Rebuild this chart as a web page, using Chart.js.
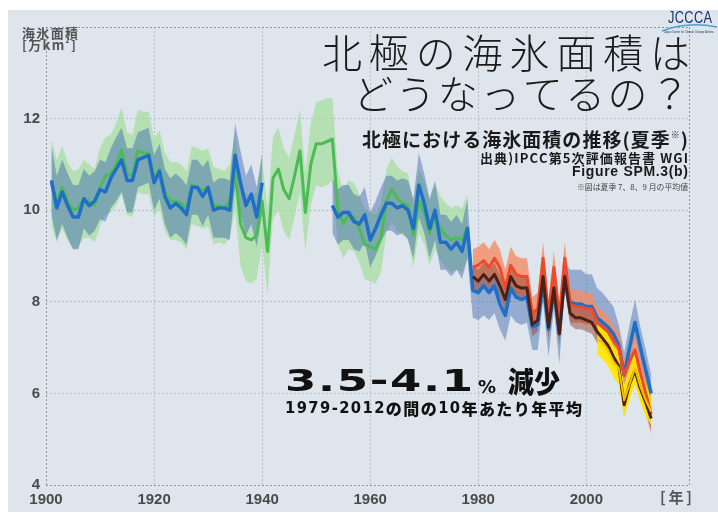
<!DOCTYPE html>
<html>
<head>
<meta charset="utf-8">
<script src="https://cdn.jsdelivr.net/npm/chart.js@4/dist/chart.umd.min.js"></script>
<style>
  html, body { margin: 0; padding: 0; background: #fff; }
</style>
</head>
<body>
<canvas id="myChart" width="718" height="514"></canvas>
<script>
// axis ticks
var xTicks = [1900, 1920, 1940, 1960, 1980, 2000, 2019];
var yTicks = [4, 6, 8, 10, 12, 14];

// green record 1901-1978
var greenStart = 1901;
var greenVals = [
  10.6, 10.2, 10.5, 10.2, 10.0, 10.05, 10.25, 10.2, 10.1, 10.5,
  10.75, 10.8, 11.0, 11.3, 10.8, 10.75, 11.3, 11.25, 11.25, 10.7,
  10.9, 10.4, 10.2, 10.2, 10.15, 10.0, 10.55, 10.5, 10.45, 10.5,
  10.1, 10.1, 10.05, 10.2, 10.85, 9.7, 9.4, 9.35, 9.45, 10.2,
  9.1, 10.7, 10.9, 10.45, 10.25, 10.75, 11.3, 9.95, 11.0, 11.45,
  11.45, 11.5, 11.55, 10.05, 9.7, 9.9, 9.85, 9.6, 9.25, 9.2,
  9.15, 9.4, 10.2, 10.45, 10.25, 10.15, 10.1, 9.45, 10.2, 9.95,
  9.5, 9.85, 9.6, 9.45, 9.35, 9.4, 9.35, 9.65
];
var greenErr = [
  0.95, 0.9, 0.9, 0.85, 0.85, 0.85, 0.85, 0.8, 0.8, 0.85, 0.85, 0.85,
  0.9, 0.95, 0.9, 0.9, 0.9, 0.9, 0.9, 0.85, 0.85, 0.85, 0.85, 0.85,
  0.85, 0.85, 0.85, 0.85, 0.85, 0.85, 0.85, 0.8, 0.8, 0.8, 0.85, 0.9,
  0.95, 0.95, 0.95, 0.95, 0.95, 0.9, 0.9, 0.9, 0.9, 0.9, 0.9, 0.85,
  0.9, 0.9, 0.95, 0.95, 0.9, 0.8, 0.75, 0.75, 0.75, 0.75, 0.75, 0.75,
  0.75, 0.75, 0.7, 0.7, 0.7, 0.7, 0.7, 0.7, 0.7, 0.7, 0.7, 0.7,
  0.7, 0.7, 0.7, 0.7, 0.7, 0.7
];

// blue record: 1901-1940, gap 1941-1952, 1953-1978, 1979-2012
var blueStart = 1901;
var blueEarly = [
  10.65, 10.05, 10.4, 10.1, 9.85, 9.85, 10.25, 10.1, 10.2, 10.45,
  10.4, 10.7, 10.9, 11.1, 10.65, 10.65, 11.1, 11.15, 11.2, 10.6,
  10.85, 10.3, 10.05, 10.15, 10.05, 9.9, 10.5, 10.5, 10.3, 10.5,
  10.0, 10.05, 10.05, 10.0, 11.2, 10.6, 10.1, 10.35, 9.85, 10.6
];
var blueEarlyErr = [
  0.75, 0.7, 0.7, 0.7, 0.7, 0.7, 0.65, 0.65, 0.65, 0.65,
  0.65, 0.65, 0.7, 0.7, 0.7, 0.7, 0.6, 0.6, 0.6, 0.6,
  0.6, 0.6, 0.65, 0.65, 0.65, 0.65, 0.6, 0.6, 0.65, 0.6,
  0.6, 0.65, 0.65, 0.65, 0.7, 0.7, 0.65, 0.65, 0.65, 0.65
];
var blueMid = [
  10.1, 9.85, 9.95, 9.95, 9.75, 9.7, 9.9, 9.35, 9.6, 9.9,
  10.15, 10.15, 10.05, 10.1, 10.0, 9.6, 10.55, 10.15, 9.6, 10.0,
  9.3, 9.3, 9.15, 9.3, 9.1, 9.6
];
var blueMidErr = [
  0.6, 0.6, 0.6, 0.6, 0.6, 0.6, 0.6, 0.6, 0.6, 0.6,
  0.6, 0.6, 0.6, 0.6, 0.65, 0.65, 0.7, 0.65, 0.65, 0.65,
  0.6, 0.6, 0.6, 0.6, 0.6, 0.65
];
var blueSat = [
  8.25, 8.2, 8.35, 8.2, 8.35, 7.95, 7.7, 8.3, 8.1, 8.05,
  8.1, 7.45, 7.5, 8.45, 7.4, 8.3, 7.3, 8.6, 8.0, 7.95,
  7.95, 7.9, 7.9, 7.65, 7.55, 7.45, 7.3, 7.05, 6.4, 7.0,
  7.55, 7.0, 6.5, 6.0
];
var blueSatUp = [
  0.3, 0.3, 0.3, 0.3, 0.3, 0.3, 0.3, 0.3, 0.3, 0.3, 0.3,
  0.3, 0.3, 0.3, 0.3, 0.3, 0.3, 0.3,
  0.7, 0.75, 0.75, 0.7, 0.7, 0.65, 0.65, 0.6, 0.6,
  0.45, 0.5, 0.5, 0.5, 0.45, 0.45, 0.4
];
var blueSatDn = [
  0.6, 0.6, 0.65, 0.6, 0.6, 0.55, 0.55, 0.6, 0.55, 0.55, 0.55,
  0.5, 0.55, 0.45, 0.6, 0.45, 0.65, 0.35,
  0.45, 0.4, 0.4, 0.35, 0.35, 0.35, 0.35, 0.35, 0.35,
  0.4, 0.45, 0.4, 0.4, 0.4, 0.4, 0.4
];
var blueGap = [null, null, null, null, null, null, null, null, null, null, null, null];

// satellite era 1979-2012
var satStart = 1979;
var redVals = [
  8.75, 8.8, 8.9, 8.75, 8.95, 8.75, 8.3, 8.8, 8.6, 8.55,
  8.55, 7.75, 7.85, 8.95, 7.7, 8.75, 7.65, 8.95, 7.95, 7.9,
  7.9, 7.85, 7.85, 7.55, 7.45, 7.35, 7.15, 7.0, 6.4, 6.7,
  6.95, 6.45, 6.0, 5.55
];
var redErr = [
  0.4, 0.4, 0.4, 0.4, 0.4, 0.4, 0.4, 0.4, 0.4, 0.4,
  0.4, 0.35, 0.35, 0.35, 0.35, 0.35, 0.35, 0.35, 0.35, 0.35,
  0.35, 0.35, 0.35, 0.35, 0.35, 0.35, 0.35, 0.35, 0.35, 0.35,
  0.35, 0.35, 0.4, 0.45
];
var brownVals = [
  8.55, 8.45, 8.6, 8.45, 8.6, 8.35, 8.05, 8.55, 8.35, 8.3,
  8.3, 7.5, 7.6, 8.55, 7.45, 8.3, 7.3, 8.55, 7.75, 7.65,
  7.65, 7.6, 7.55, 7.35, 7.2, 7.05, 6.8, 6.6, 5.75, 6.2,
  6.5, 6.1, 5.8, 5.45
];
var brownErr = [
  0.25, 0.25, 0.25, 0.25, 0.25, 0.25, 0.25, 0.25, 0.25, 0.25,
  0.25, 0.25, 0.25, 0.25, 0.25, 0.25, 0.25, 0.25, 0.25, 0.25,
  0.25, 0.25, 0.25, 0.25, 0.25, 0.25, 0.25, 0.25, 0.25, 0.25,
  0.25, 0.25, 0.25, 0.25
];
var yellowStart = 2002;
var yellowVals = [7.2, 7.1, 6.95, 6.7, 6.55, 5.85, 6.2, 6.55, 6.15, 5.85, 5.6];
var yellowErr = [0.35, 0.35, 0.35, 0.35, 0.35, 0.35, 0.35, 0.35, 0.35, 0.35, 0.3];

var bgColor = "#dfe5ec";

function pts(start, vals, err, sign) {
  return vals.map(function (v, i) {
    if (v == null) return { x: start + i, y: null };
    var y = err ? v + sign * err[i] : v;
    return { x: start + i, y: Math.round(y * 100) / 100 };
  });
}

var blueVals = blueEarly.concat(blueGap, blueMid, blueSat);
var blueUp = blueEarlyErr.concat(blueGap, blueMidErr, blueSatUp);
var blueDn = blueEarlyErr.concat(blueGap, blueMidErr, blueSatDn);

function band(start, vals, up, dn, color) {
  return [
    { data: pts(start, vals, up, 1), borderWidth: 0, pointRadius: 0, fill: false },
    { data: pts(start, vals, dn, -1), borderWidth: 0, pointRadius: 0, fill: "-1", backgroundColor: color }
  ];
}
function line(start, vals, color, w) {
  return { data: pts(start, vals), borderColor: color, borderWidth: w, pointRadius: 0, fill: false, borderJoinStyle: "round" };
}

// bottom to top
var layers = [].concat(
  band(greenStart, greenVals, greenErr, greenErr, "rgba(165,222,160,0.75)"),
  band(blueStart, blueVals, blueUp, blueDn, "rgba(60,100,175,0.45)"),
  band(satStart, redVals, redErr, redErr, "rgba(242,140,100,0.8)"),
  band(satStart, brownVals, brownErr, brownErr, "rgba(150,70,55,0.5)"),
  band(yellowStart, yellowVals, yellowErr, yellowErr, "rgba(255,232,0,0.92)"),
  [
    line(greenStart, greenVals, "#4cbb55", 3),
    line(blueStart, blueVals, "#1e6fc5", 3.5),
    line(satStart, redVals, "#ec4a2c", 3),
    line(satStart, brownVals, "#4b2117", 3),
    line(yellowStart, yellowVals, "#f2c200", 2)
  ]
);
layers.forEach(function (d, i) { d.order = layers.length - i; d.tension = 0; d.spanGaps = false; });

// text spread over a given width
function run(c, parts, left, right, cy, color) {
  var chars = [];
  parts.forEach(function (p) {
    c.font = p[1];
    for (var ch of p[0]) chars.push({ ch: ch, font: p[1], dy: p[2] || 0, sx: p[3] || 1, w: c.measureText(ch).width * (p[3] || 1) });
  });
  var total = chars.reduce(function (s, ch) { return s + ch.w; }, 0);
  var squeeze = 1, gap = 0;
  if (total > right - left) squeeze = (right - left) / total;
  else if (chars.length > 1) gap = (right - left - total) / (chars.length - 1);
  var x = left;
  c.save();
  c.fillStyle = color || "#1a1a1a";
  c.textBaseline = "middle";
  c.textAlign = "left";
  chars.forEach(function (ch) {
    c.font = ch.font;
    c.save();
    c.translate(x, cy + ch.dy);
    c.scale(ch.sx * squeeze, 1);
    c.fillText(ch.ch, 0, 0);
    c.restore();
    x += ch.w * squeeze + gap;
  });
  c.restore();
}

var jp = '"Noto Sans CJK JP"';
var paper = {
  id: "paper",
  beforeDraw: function (chart) {
    var c = chart.ctx;
    c.save();
    c.fillStyle = "#ffffff";
    c.fillRect(0, 0, 718, 514);
    c.fillStyle = bgColor;
    c.fillRect(8, 10, 710, 502);
    c.restore();
  },
  afterDraw: function (chart) {
    var c = chart.ctx;
    run(c, [["北極の海氷面積は", "300 40px " + jp]], 322, 690, 53, "#1a1a1a");
    run(c, [["どうなってるの？", "300 40px " + jp]], 353, 690, 94, "#1a1a1a");
    run(c, [["北極における海氷面積の推移(夏季", "bold 19px " + jp], ["※", "bold 9px " + jp, -5], [")", "bold 19px " + jp]], 362, 688, 140, "#1a1a1a");
    run(c, [["出典)IPCC第5次評価報告書 WGI", "bold 13px " + jp]], 480, 688, 158, "#1a1a1a");
    run(c, [["Figure SPM.3(b)", 'bold 14px "Liberation Sans"']], 572, 688, 172, "#1a1a1a");
    run(c, [["※図は夏季 7、8、9 月の平均値", "8px " + jp]], 577, 688, 187, "#444");

    run(c, [["3.5-4.1", 'bold 30px "DejaVu Sans"', 0, 1.5]], 285, 473, 383, "#111");
    run(c, [["%", 'bold 18px "DejaVu Sans"']], 478, 505, 388, "#111");
    run(c, [["減少", "900 29px " + jp]], 508, 560, 382, "#111");
    run(c, [["1979-2012", 'bold 16px "DejaVu Sans"', 0, 0.92], ["の間の", "900 16px " + jp], ["10", 'bold 16px "DejaVu Sans"', 0, 0.92], ["年あたり年平均", "900 16px " + jp]], 285, 582, 409, "#111");

    run(c, [["海氷面積", "bold 13px " + jp]], 22, 78, 33, "#555");
    run(c, [["[万km", "bold 13px " + jp], ["2", "bold 7px " + jp, -5], ["]", "bold 13px " + jp]], 22, 76, 45, "#555");
    run(c, [["[年]", "bold 15px " + jp]], 660, 692, 497, "#555");

    // JCCCA mark
    c.save();
    c.strokeStyle = "#4aa0d8";
    c.lineWidth = 1.5;
    c.beginPath();
    c.moveTo(662, 31);
    c.quadraticCurveTo(688, 21, 717, 27);
    c.stroke();
    c.restore();
    run(c, [["JCCCA", '16px "Liberation Sans Narrow", "Liberation Sans"', 0, 0.8]], 668, 712, 19, "#1b3270");
    run(c, [["Japan Center for Climate Change Actions", '3px "Liberation Sans"']], 664, 714, 32, "#1b3270");
  }
};

var tickFont = { family: "Liberation Sans", size: 15, weight: "bold" };

new Chart("myChart", {
  type: "line",
  data: { datasets: layers },
  options: {
    responsive: false,
    devicePixelRatio: 1,
    animation: false,
    layout: { padding: { left: 0, right: 29, top: 27, bottom: 0 } },
    plugins: { legend: { display: false }, tooltip: { enabled: false } },
    scales: {
      x: {
        type: "linear",
        min: 1900,
        max: 2019,
        afterBuildTicks: function (s) { s.ticks = xTicks.map(function (v) { return { value: v }; }); },
        afterFit: function (s) { s.height = 29; },
        ticks: {
          autoSkip: false, maxRotation: 0, padding: 6, color: "#4a4a4a", font: tickFont,
          callback: function (v) { return v === 2019 ? "" : String(v); }
        },
        grid: {
          drawTicks: false,
          color: function (ctx) { var v = ctx.tick && ctx.tick.value; return (v === 1900 || v === 2019) ? "#8e959d" : "#b5bdc6"; }
        },
        border: { display: false, dash: [2, 2] }
      },
      y: {
        min: 4,
        max: 14,
        afterBuildTicks: function (s) { s.ticks = yTicks.map(function (v) { return { value: v }; }); },
        afterFit: function (s) { s.width = 46; },
        ticks: {
          padding: 6, color: "#4a4a4a", font: tickFont,
          callback: function (v) { return v === 14 ? "" : String(v); }
        },
        grid: {
          drawTicks: false,
          color: function (ctx) { var v = ctx.tick && ctx.tick.value; return (v === 4 || v === 14) ? "#8e959d" : "#b5bdc6"; }
        },
        border: { display: false, dash: [2, 2] }
      }
    }
  },
  plugins: [paper]
});
</script>
</body>
</html>
